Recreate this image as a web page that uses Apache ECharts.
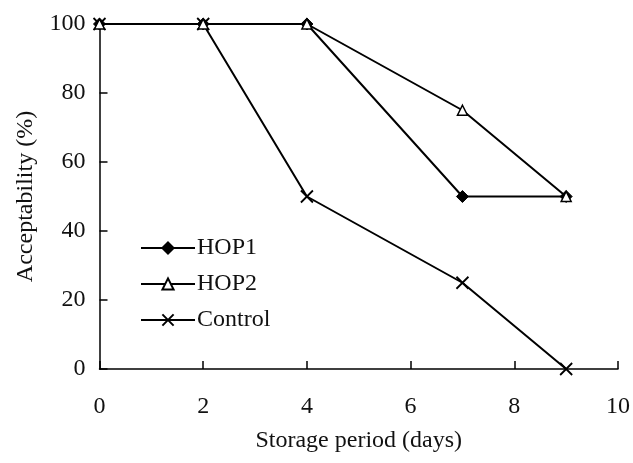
<!DOCTYPE html>
<html>
<head>
<meta charset="utf-8">
<script src="https://cdn.jsdelivr.net/npm/echarts@6/dist/echarts.min.js"></script>
<style>html,body{margin:0;padding:0;background:#fff;}#c{width:633px;height:463px;}</style>
</head>
<body>
<div id="c"></div>
<script>
const days = [0, 2, 4, 7, 9];
const hop1 = [100, 100, 100, 50, 50];
const hop2 = [100, 100, 100, 75, 50];
const control = [100, 100, 50, 25, 0];
const seriesNames = ['HOP1', 'HOP2', 'Control'];

const pairs = (ys) => days.map((d, i) => [d, ys[i]]);
const font = 'Liberation Serif';
const txt = '#111';
const chart = echarts.init(document.getElementById('c'), null, {renderer: 'canvas'});
const lineStyle = {color: '#000', width: 2};
chart.setOption({
  animation: false,
  backgroundColor: '#fff',
  grid: {left: 99.5, right: 15, top: 24, bottom: 94},
  legend: {
    orient: 'vertical', left: 135, top: 231,
    itemWidth: 54, itemHeight: 14, itemGap: 12,
    textStyle: {fontFamily: font, fontSize: 24, color: txt, padding: [0, 0, 0, -3]},
    data: seriesNames
  },
  xAxis: {
    type: 'value', min: 0, max: 10, interval: 2,
    name: 'Storage period (days)', nameLocation: 'middle', nameGap: 60,
    nameTextStyle: {fontFamily: font, fontSize: 24, color: txt},
    axisLine: {lineStyle: {color: '#000', width: 1.5}},
    axisTick: {inside: true, length: 8, lineStyle: {color: '#000', width: 1.5}},
    axisLabel: {fontFamily: font, fontSize: 24, color: txt, margin: 26},
    splitLine: {show: false}
  },
  yAxis: {
    type: 'value', min: 0, max: 100, interval: 20,
    name: 'Acceptability (%)', nameLocation: 'middle', nameGap: 62,
    nameTextStyle: {fontFamily: font, fontSize: 24, color: txt},
    axisLine: {lineStyle: {color: '#000', width: 1.5}},
    axisTick: {inside: true, length: 8, lineStyle: {color: '#000', width: 1.5}},
    axisLabel: {fontFamily: font, fontSize: 24, color: txt, margin: 14},
    splitLine: {show: false}
  },
  series: [
    {name: seriesNames[0], type: 'line', data: pairs(hop1), symbol: 'diamond', symbolSize: 12,
     lineStyle: lineStyle, itemStyle: {color: '#000', borderColor: '#000', borderWidth: 1}, z: 3},
    {name: seriesNames[1], type: 'line', data: pairs(hop2), symbol: 'triangle', symbolSize: 10,
     lineStyle: lineStyle, itemStyle: {color: '#fff', borderColor: '#000', borderWidth: 1.5}, z: 4},
    {name: seriesNames[2], type: 'line', data: pairs(control), symbol: 'path://M0,0L10,10M10,0L0,10', symbolSize: 12,
     lineStyle: lineStyle, itemStyle: {color: '#000', borderColor: '#000', borderWidth: 1.8}, z: 2}
  ]
});
</script>
</body>
</html>
